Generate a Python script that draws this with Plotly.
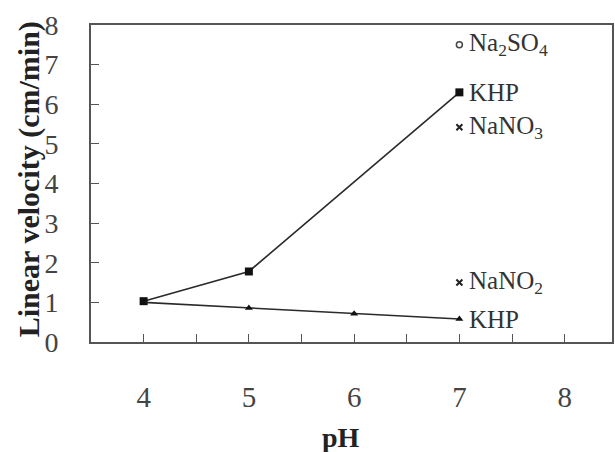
import plotly.graph_objects as go

# Data
ph_khp_up = [4, 5, 7]
vel_khp_up = [1.03, 1.78, 6.3]

ph_khp_low = [4, 5, 6, 7]
vel_khp_low = [1.0, 0.86, 0.71, 0.58]

ph_single = [7]
vel_na2so4 = [7.5]
vel_nano3 = [5.42]
vel_nano2 = [1.5]

label_names = ["Na<sub>2</sub>SO<sub>4</sub>", "KHP", "NaNO<sub>3</sub>", "NaNO<sub>2</sub>", "KHP"]
label_y = [vel_na2so4[0], vel_khp_up[-1], vel_nano3[0], vel_nano2[0], vel_khp_low[-1]]

x_ticks = [4, 5, 6, 7, 8]
y_ticks = [0, 1, 2, 3, 4, 5, 6, 7, 8]

x_title = "pH"
y_title = "Linear velocity (cm/min)"

SERIF = "Liberation Serif"
INK = "#2a2a2a"

fig = go.Figure()
fig.add_trace(go.Scatter(x=ph_khp_up, y=vel_khp_up, mode="lines+markers",
                         line=dict(color=INK, width=1.6),
                         marker=dict(symbol="square", size=8, color="#111")))
fig.add_trace(go.Scatter(x=ph_khp_low, y=vel_khp_low, mode="lines+markers",
                         line=dict(color=INK, width=1.6),
                         marker=dict(symbol="triangle-up", size=7, color="#111")))
fig.add_trace(go.Scatter(x=ph_single, y=vel_na2so4, mode="markers",
                         marker=dict(symbol="circle-open", size=6, color="#444",
                                     line=dict(width=1.5, color="#444"))))
fig.add_trace(go.Scatter(x=ph_single, y=vel_nano3, mode="markers",
                         marker=dict(symbol="x-thin-open", size=6, color="#222",
                                     line=dict(width=2, color="#222"))))
fig.add_trace(go.Scatter(x=ph_single, y=vel_nano2, mode="markers",
                         marker=dict(symbol="x-thin-open", size=6, color="#222",
                                     line=dict(width=2, color="#222"))))

for name, yv in zip(label_names, label_y):
    fig.add_annotation(x=ph_single[0], y=yv, text=name, showarrow=False,
                       xanchor="left", yanchor="middle", xshift=8,
                       font=dict(family=SERIF, size=25, color="#333"))

# axis titles as annotations for exact placement
fig.add_annotation(xref="paper", yref="paper", x=0.48, y=-0.30,
                   text=f"<b>{x_title}</b>", showarrow=False,
                   xanchor="center", yanchor="middle",
                   font=dict(family=SERIF, size=28, color="#222"))
fig.add_annotation(xref="paper", yref="paper", x=-0.12, y=0.515, xanchor="center",
                   text=f"<b>{y_title}</b>", showarrow=False, textangle=-90,
                   yanchor="middle", font=dict(family=SERIF, size=30, color="#222"))

fig.update_layout(
    width=615, height=452,
    margin=dict(l=91, r=3, t=25, b=110),
    paper_bgcolor="white", plot_bgcolor="white",
    showlegend=False,
    font=dict(family=SERIF, color="#333"),
)
fig.update_xaxes(
    range=[3.5, 8.45], tickvals=x_ticks, ticktext=[str(v) for v in x_ticks],
    ticks="inside", ticklen=8, tickwidth=1.3, tickcolor="#555",
    minor=dict(dtick=0.5, tick0=0, ticks="inside", ticklen=8, tickwidth=1.3, tickcolor="#555"),
    showline=True, linecolor="#555", linewidth=2, mirror=True,
    showgrid=False, zeroline=False, automargin=False,
    tickfont=dict(family=SERIF, size=29, color="#444"),
    ticklabelstandoff=28,
)
fig.update_yaxes(
    range=[0, 8], tickvals=y_ticks, ticktext=[str(v) for v in y_ticks],
    ticks="inside", ticklen=8, tickwidth=1.3, tickcolor="#555",
    showline=True, linecolor="#555", linewidth=2, mirror=True,
    showgrid=False, zeroline=False, automargin=False,
    tickfont=dict(family=SERIF, size=28, color="#444"),
    ticklabelstandoff=25,
)

fig.write_html("out.html", config={"displayModeBar": False},
               post_script="document.body.style.margin='0';document.body.style.padding='0';")
